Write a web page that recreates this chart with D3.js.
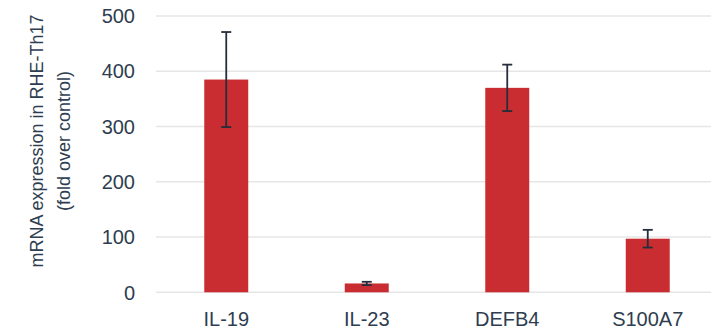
<!DOCTYPE html>
<html>
<head>
<meta charset="utf-8">
<script src="https://cdn.jsdelivr.net/npm/d3@7"></script>
<style>
  body { margin: 0; background: #fff; }
  svg text { font-family: "Liberation Sans", Arial, sans-serif; fill: #2e3d4f; }
</style>
</head>
<body>
<div id="chart"></div>
<script>
// chart data
const genes = ["IL-19", "IL-23", "DEFB4", "S100A7"];
const foldChange = [385, 16, 370, 97];
const errors = [86, 3, 42, 16];
const yTicks = [0, 100, 200, 300, 400, 500];

const width = 711, height = 330;
const margin = {top: 16, right: -7, bottom: 38, left: 156};

const svg = d3.select("#chart").append("svg")
    .attr("width", width)
    .attr("height", height);

const x = d3.scaleBand()
    .domain(genes)
    .range([margin.left, width - margin.right])
    .paddingInner(0.687)
    .paddingOuter(0.3435);

const y = d3.scaleLinear()
    .domain([0, 500])
    .range([height - margin.bottom + 0.3, margin.top]);

// gridlines
svg.append("g")
    .selectAll("line")
    .data(yTicks)
    .join("line")
    .attr("x1", margin.left)
    .attr("x2", width)
    .attr("y1", d => y(d))
    .attr("y2", d => y(d))
    .attr("stroke", "#e6e6e6")
    .attr("stroke-width", 1.5);

// y tick labels
svg.append("g")
    .selectAll("text")
    .data(yTicks)
    .join("text")
    .attr("x", 135)
    .attr("y", d => y(d))
    .attr("dy", "0.36em")
    .attr("text-anchor", "end")
    .style("font-size", "20px")
    .text(d => d);

// bars
svg.append("g")
    .selectAll("rect")
    .data(genes)
    .join("rect")
    .attr("x", d => x(d))
    .attr("width", x.bandwidth())
    .attr("y", (d, i) => y(foldChange[i]))
    .attr("height", (d, i) => y(0) - y(foldChange[i]))
    .attr("fill", "#c92d32");

// error bars
const err = svg.append("g")
    .attr("stroke", "#252e3a")
    .attr("stroke-width", 1.8);

genes.forEach((g, i) => {
    const cx = x(g) + x.bandwidth() / 2;
    const hi = y(foldChange[i] + errors[i]);
    const lo = y(foldChange[i] - errors[i]);
    err.append("line").attr("x1", cx).attr("x2", cx).attr("y1", hi).attr("y2", lo);
    err.append("line").attr("x1", cx - 5).attr("x2", cx + 5).attr("y1", hi).attr("y2", hi);
    err.append("line").attr("x1", cx - 5).attr("x2", cx + 5).attr("y1", lo).attr("y2", lo);
});

// x labels
svg.append("g")
    .selectAll("text")
    .data(genes)
    .join("text")
    .attr("x", d => x(d) + x.bandwidth() / 2)
    .attr("y", 326)
    .attr("text-anchor", "middle")
    .style("font-size", "20px")
    .text(d => d);

// y axis title, two lines
svg.append("text")
    .attr("transform", "translate(43,141) rotate(-90)")
    .attr("text-anchor", "middle")
    .style("font-size", "18px")
    .text("mRNA expression in RHE-Th17");
svg.append("text")
    .attr("transform", "translate(70,141) rotate(-90)")
    .attr("text-anchor", "middle")
    .style("font-size", "18px")
    .text("(fold over control)");
</script>
</body>
</html>
